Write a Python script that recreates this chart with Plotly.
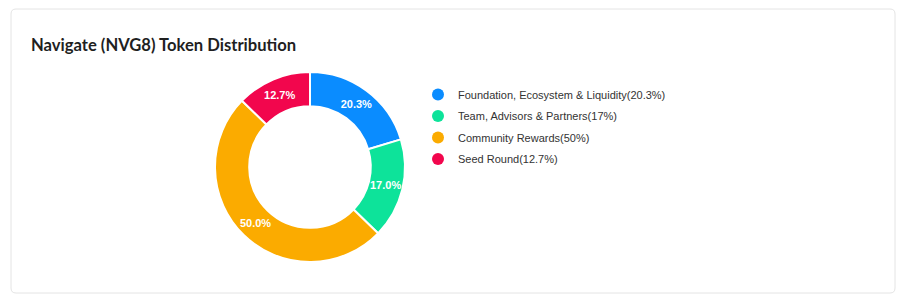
import plotly.graph_objects as go

# ---- data ----
categories = ["Foundation, Ecosystem & Liquidity", "Team, Advisors & Partners",
              "Community Rewards", "Seed Round"]
shares = [20.3, 17, 50, 12.7]
colors = ["#0a8cff", "#0de39a", "#fbab00", "#f2064d"]
title_text = "Navigate (NVG8) Token Distribution"

W, H = 907, 305

def px_x(x):
    return x / W

def px_y(y):
    return 1 - y / H

fig = go.Figure()

fig.add_trace(go.Pie(
    labels=categories, values=shares, sort=False, direction="clockwise",
    rotation=0, hole=0.64,
    marker=dict(colors=colors, line=dict(color="white", width=2)),
    texttemplate="%{percent:.1%}", textposition="inside",
    insidetextorientation="horizontal",
    textfont=dict(family="Liberation Sans, Arial", size=11, color="white", weight="bold"),
    domain=dict(x=[px_x(215), px_x(405)], y=[px_y(262), px_y(72)]),
    showlegend=False, hoverinfo="label+percent",
))

for i, (cat, v, c) in enumerate(zip(categories, shares, colors)):
    fig.add_trace(go.Scatter(
        x=[None], y=[None], mode="markers",
        marker=dict(symbol="circle", size=11, color=c),
        name=f"{cat}({v:g}%)", legendgroup=f"g{i}", showlegend=True,
    ))

# rounded card path in paper coords
x0, x1, y0, y1, r = 11, 895, 9, 293, 5
def P(x, y):
    return f"{px_x(x):.5f},{px_y(y):.5f}"
path = (f"M {P(x0 + r, y0)} L {P(x1 - r, y0)} Q {P(x1, y0)} {P(x1, y0 + r)} "
        f"L {P(x1, y1 - r)} Q {P(x1, y1)} {P(x1 - r, y1)} "
        f"L {P(x0 + r, y1)} Q {P(x0, y1)} {P(x0, y1 - r)} "
        f"L {P(x0, y0 + r)} Q {P(x0, y0)} {P(x0 + r, y0)} Z")

fig.update_layout(
    width=W, height=H,
    margin=dict(l=0, r=0, t=0, b=0),
    paper_bgcolor="white", plot_bgcolor="rgba(0,0,0,0)",
    xaxis=dict(visible=False, domain=[0, 0.01]),
    yaxis=dict(visible=False, domain=[0, 0.01]),
    shapes=[dict(type="path", xref="paper", yref="paper", path=path,
                 line=dict(color="#e4e4e4", width=1), fillcolor="white", layer="below")],
    title=dict(text=f"<b>{title_text}</b>", x=px_x(31), xanchor="left",
               y=px_y(45), yanchor="middle",
               font=dict(family="Lato, Liberation Sans, Arial", size=16.6, color="#1f1f1f")),
    legend=dict(x=px_x(418), y=px_y(80), xanchor="left", yanchor="top",
                font=dict(family="Liberation Sans, Arial", size=11, color="#333333"),
                itemsizing="constant", tracegroupgap=2.5, traceorder="grouped",
                bgcolor="rgba(0,0,0,0)", itemwidth=30),
)

fig.write_html("out.html")
